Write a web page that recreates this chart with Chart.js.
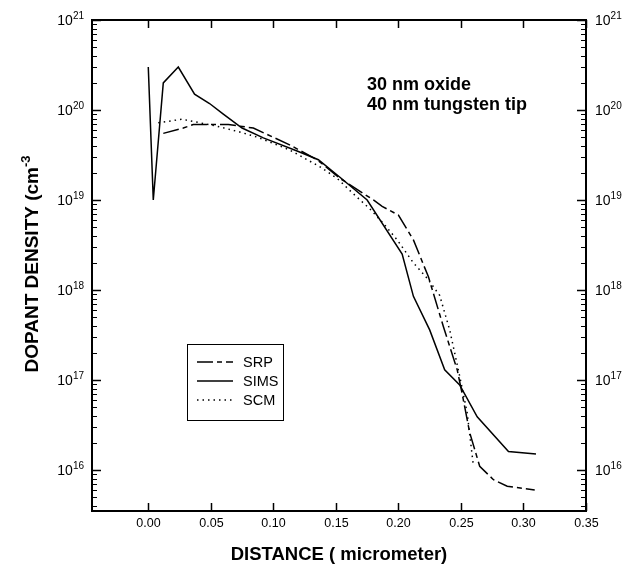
<!DOCTYPE html>
<html><head><meta charset="utf-8">
<script src="https://cdn.jsdelivr.net/npm/chart.js@4"></script>
<style>html,body{margin:0;padding:0;background:#fff}</style>
</head><body>
<canvas id="c" width="636" height="568"></canvas>
<script>
// ---- data ----
const xTicks = [0.00, 0.05, 0.10, 0.15, 0.20, 0.25, 0.30, 0.35];
const yDecades = [16, 17, 18, 19, 20, 21];
const seriesNames = ['SRP', 'SIMS', 'SCM'];

const srpX = [0.012, 0.028, 0.036, 0.064, 0.084, 0.113, 0.135, 0.153, 0.180, 0.187, 0.200, 0.212, 0.224, 0.236, 0.247, 0.251, 0.257, 0.265, 0.276, 0.287, 0.309];
const srpY = [5.5e19, 6.3e19, 6.9e19, 6.9e19, 6.3e19, 4.1e19, 2.8e19, 1.75e19, 1.0e19, 8.5e18, 6.8e18, 3.6e18, 1.4e18, 3.9e17, 1.3e17, 7e16, 2.6e16, 1.1e16, 7.8e15, 6.6e15, 6.0e15];

const simsX = [0.000, 0.004, 0.012, 0.024, 0.037, 0.049, 0.060, 0.075, 0.092, 0.119, 0.136, 0.153, 0.175, 0.203, 0.212, 0.225, 0.237, 0.249, 0.263, 0.288, 0.310];
const simsY = [3e20, 1.0e19, 2e20, 3e20, 1.5e20, 1.18e20, 9e19, 6.3e19, 4.9e19, 3.5e19, 2.8e19, 1.8e19, 1.0e19, 2.5e18, 8.5e17, 3.6e17, 1.3e17, 8.8e16, 3.9e16, 1.6e16, 1.5e16];

const scmX = [0.008, 0.027, 0.055, 0.073, 0.087, 0.113, 0.137, 0.151, 0.164, 0.177, 0.188, 0.199, 0.212, 0.223, 0.233, 0.241, 0.249, 0.255, 0.260];
const scmY = [7.2e19, 7.9e19, 6.6e19, 5.7e19, 5.0e19, 3.6e19, 2.35e19, 1.74e19, 1.17e19, 8e18, 5.5e18, 3.6e18, 2e18, 1.35e18, 8.7e17, 3.6e17, 1.1e17, 4.3e16, 1.1e16];

const annotationLines = ['30 nm oxide', '40 nm tungsten tip'];
const xTitle = 'DISTANCE ( micrometer)';

// ---- styles ----
const dashes = { SRP: [16, 4, 5, 4], SIMS: [], SCM: [1.5, 4] };
const pts = (xs, ys) => xs.map((x, i) => ({ x: x, y: ys[i] }));

const FONT = '"Liberation Sans", Arial, sans-serif';

function supText(ctx, base, exp, x, y, size, supSize, align, bold) {
  const w = bold ? 'bold ' : '';
  ctx.font = w + size + 'px ' + FONT;
  const wb = ctx.measureText(base).width;
  ctx.font = w + supSize + 'px ' + FONT;
  const we = ctx.measureText(exp).width;
  const total = wb + we;
  let sx = x;
  if (align === 'right') sx = x - total;
  else if (align === 'center') sx = x - total / 2;
  ctx.textAlign = 'left';
  ctx.textBaseline = 'middle';
  ctx.font = w + size + 'px ' + FONT;
  ctx.fillText(base, sx, y);
  ctx.font = w + supSize + 'px ' + FONT;
  ctx.fillText(exp, sx + wb, y - size * 0.35);
}

const framePlugin = {
  id: 'frame',
  afterDatasetsDraw(chart) {
    const ctx = chart.ctx;
    const a = chart.chartArea;
    const xs = chart.scales.x, ys = chart.scales.y;
    ctx.save();
    ctx.strokeStyle = '#000';
    ctx.fillStyle = '#000';
    ctx.setLineDash([]);
    // frame
    ctx.lineWidth = 2;
    ctx.strokeRect(a.left, a.top, a.right - a.left, a.bottom - a.top);
    // x ticks
    ctx.lineWidth = 1.5;
    ctx.font = '12.5px ' + FONT;
    ctx.textAlign = 'center';
    ctx.textBaseline = 'middle';
    xTicks.forEach(v => {
      const px = Math.round(xs.getPixelForValue(v)) + 0.5;
      ctx.beginPath();
      ctx.moveTo(px, a.bottom); ctx.lineTo(px, a.bottom - 8);
      ctx.moveTo(px, a.top); ctx.lineTo(px, a.top + 8);
      ctx.stroke();
      ctx.fillText(v.toFixed(2), px, a.bottom + 13);
    });
    // y ticks
    const ymin = ys.min, ymax = ys.max;
    for (let d = 15; d <= 21; d++) {
      for (let m = 1; m <= 9; m++) {
        const v = m * Math.pow(10, d);
        if (v < ymin * 0.999 || v > ymax * 1.001) continue;
        const py = Math.round(ys.getPixelForValue(v)) + 0.5;
        const len = m === 1 ? 9 : 5;
        ctx.lineWidth = m === 1 ? 1.5 : 1;
        ctx.beginPath();
        ctx.moveTo(a.left, py); ctx.lineTo(a.left + len, py);
        ctx.moveTo(a.right, py); ctx.lineTo(a.right - len, py);
        ctx.stroke();
      }
    }
    yDecades.forEach(d => {
      const py = ys.getPixelForValue(Math.pow(10, d));
      supText(ctx, '10', String(d), a.left - 8, py + 1, 14, 10, 'right', false);
      supText(ctx, '10', String(d), a.right + 9, py + 1, 14, 10, 'left', false);
    });
    // axis titles
    ctx.font = 'bold 18.5px ' + FONT;
    ctx.textAlign = 'center';
    ctx.textBaseline = 'middle';
    ctx.fillText(xTitle, (a.left + a.right) / 2, a.bottom + 44);
    ctx.save();
    ctx.translate(33, 264);
    ctx.rotate(-Math.PI / 2);
    supText(ctx, 'DOPANT DENSITY (cm', '-3', 0, 0, 19, 13, 'center', true);
    ctx.restore();
    // annotation
    ctx.font = 'bold 18px ' + FONT;
    ctx.textAlign = 'left';
    ctx.textBaseline = 'middle';
    ctx.fillText(annotationLines[0], 367, 85);
    ctx.fillText(annotationLines[1], 367, 105);
    // legend
    ctx.lineWidth = 1;
    ctx.strokeRect(187.5, 344.5, 96, 76);
    const rowsY = [362, 381, 400];
    chart.data.datasets.forEach((ds, i) => {
      ctx.lineWidth = 1.5;
      ctx.setLineDash(ds.borderDash || []);
      ctx.beginPath();
      ctx.moveTo(197, rowsY[i]); ctx.lineTo(233, rowsY[i]);
      ctx.stroke();
      ctx.setLineDash([]);
      ctx.font = '14.5px ' + FONT;
      ctx.fillText(ds.label, 243, rowsY[i] + 1);
    });
    ctx.restore();
  }
};

new Chart(document.getElementById('c'), {
  type: 'line',
  data: {
    datasets: [
      { label: seriesNames[0], data: pts(srpX, srpY), borderDash: dashes.SRP },
      { label: seriesNames[1], data: pts(simsX, simsY), borderDash: dashes.SIMS },
      { label: seriesNames[2], data: pts(scmX, scmY), borderDash: dashes.SCM }
    ].map(d => Object.assign(d, { borderColor: '#000', borderWidth: 1.5, pointRadius: 0, tension: 0, fill: false }))
  },
  options: {
    responsive: false,
    animation: false,
    devicePixelRatio: 1,
    layout: { padding: { left: 92, right: 50, top: 20, bottom: 57 } },
    plugins: { legend: { display: false }, tooltip: { enabled: false } },
    scales: {
      x: { type: 'linear', min: -0.045, max: 0.35, display: false },
      y: { type: 'logarithmic', min: 3.5e15, max: 1e21, display: false }
    }
  },
  plugins: [framePlugin]
});
</script>
</body></html>
